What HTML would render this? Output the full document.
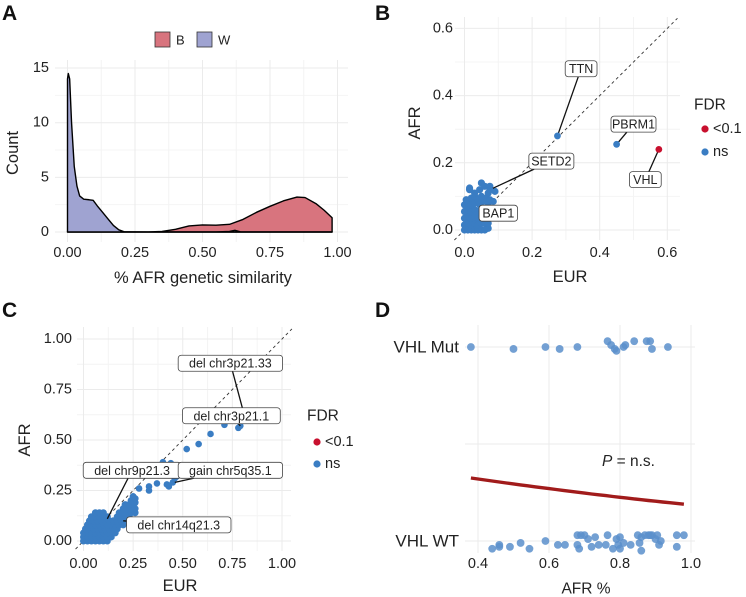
<!DOCTYPE html>
<html><head><meta charset="utf-8"><style>
html,body{margin:0;padding:0;background:#fff;}
svg{display:block;font-family:"Liberation Sans",Arial,sans-serif;}
</style></head><body>
<svg id="fig" width="746" height="597" viewBox="0 0 746 597" xmlns="http://www.w3.org/2000/svg">
<g id="pA"></g>
<g id="pB"></g>
<g id="pC"></g>
<g id="pD"></g>
</svg>
<script>
// ---------- Panel A data ----------
const aTicksX = [0, 0.25, 0.5, 0.75, 1.0];
const aTickLabelsX = ["0.00", "0.25", "0.50", "0.75", "1.00"];
const aTicksY = [0, 5, 10, 15];
const wDensX = [0, 0.003, 0.008, 0.015, 0.025, 0.035, 0.045, 0.06, 0.08, 0.095, 0.11, 0.13, 0.15, 0.17, 0.19, 0.21, 0.3, 0.4, 0.55, 0.6, 0.62, 0.64, 0.7, 0.98];
const wDensY = [14, 14.5, 14, 10, 6, 4.2, 3.3, 3.0, 2.95, 2.9, 2.4, 1.8, 1.2, 0.6, 0.2, 0.02, 0, 0, 0, 0.05, 0.15, 0.02, 0, 0];
const bDensX = [0, 0.3, 0.35, 0.4, 0.45, 0.5, 0.55, 0.6, 0.65, 0.7, 0.75, 0.8, 0.85, 0.88, 0.92, 0.95, 0.98];
const bDensY = [0, 0, 0.05, 0.25, 0.55, 0.65, 0.62, 0.7, 1.15, 1.8, 2.35, 2.85, 3.2, 3.15, 2.6, 2.0, 1.3];

// ---------- Panel B data ----------
const bTicks = [0, 0.2, 0.4, 0.6];
const bTickLabels = ["0.0", "0.2", "0.4", "0.6"];
const bCluster = [[0,0],[0.01,0],[0.02,0],[0.03,0],[0.04,0],[0.05,0],[0.06,0],[0.07,0.005],
[0,0.015],[0.01,0.02],[0.02,0.015],[0.03,0.02],[0.04,0.015],[0.05,0.02],[0.06,0.02],[0.07,0.02],
[0,0.035],[0.01,0.04],[0.02,0.035],[0.03,0.04],[0.04,0.035],[0.05,0.04],[0.065,0.035],
[0,0.055],[0.01,0.06],[0.02,0.055],[0.03,0.06],[0.04,0.055],[0.05,0.06],[0.06,0.055],
[0,0.075],[0.01,0.08],[0.02,0.075],[0.03,0.08],[0.045,0.075],[0.055,0.085],[0.07,0.08],[0.085,0.085],
[0.005,0.09],[0.02,0.095],[0.03,0.1],[0.04,0.09],[0.05,0.1],[0.065,0.095],[0.075,0.09],
[0.015,0.125],[0.015,0.12],[0.045,0.12],[0.05,0.14],[0.06,0.13],[0.075,0.13],[0.09,0.115],[0.07,0.11],[0.03,0.11]];
const bGenes = ["TTN", "SETD2", "BAP1", "PBRM1", "VHL"];
const bGeneEUR = [0.275, 0.075, 0.05, 0.45, 0.575];
const bGeneAFR = [0.28, 0.12, 0.06, 0.255, 0.24];
const bGeneSig = [false, false, false, false, true];
const bLabelX = [0.345, 0.257, 0.1, 0.5, 0.535];
const bLabelY = [0.48, 0.205, 0.05, 0.315, 0.15];

// ---------- Panel C data ----------
const cTicks = [0, 0.25, 0.5, 0.75, 1.0];
const cTickLabels = ["0.00", "0.25", "0.50", "0.75", "1.00"];
const cOutliers = [[0.78,0.56],[0.79,0.57],[0.71,0.575],[0.64,0.53],[0.58,0.48],[0.52,0.455],[0.47,0.32],[0.46,0.31],[0.45,0.29],[0.43,0.27],[0.42,0.28],[0.4,0.39],[0.44,0.385],[0.37,0.285],[0.33,0.27],[0.33,0.25],[0.28,0.26]];
const cCluster = [[0,0],[0.02,0],[0.04,0],[0.06,0],[0.08,0],[0.1,0],[0.12,0],
[0,0.02],[0.02,0.02],[0.04,0.02],[0.06,0.02],[0.08,0.02],[0.1,0.02],[0.12,0.02],[0.14,0.02],
[0,0.04],[0.02,0.04],[0.04,0.04],[0.06,0.04],[0.08,0.04],[0.1,0.04],[0.12,0.04],[0.14,0.04],[0.16,0.04],
[0.01,0.06],[0.03,0.06],[0.05,0.06],[0.07,0.06],[0.09,0.06],[0.11,0.06],[0.13,0.06],[0.15,0.06],[0.17,0.06],
[0.02,0.08],[0.04,0.08],[0.06,0.08],[0.08,0.08],[0.1,0.08],[0.12,0.08],[0.14,0.08],[0.16,0.08],[0.18,0.08],[0.2,0.08],
[0.03,0.1],[0.05,0.1],[0.07,0.1],[0.09,0.1],[0.11,0.1],[0.13,0.1],[0.15,0.1],[0.17,0.1],[0.19,0.1],[0.21,0.1],
[0.04,0.12],[0.06,0.12],[0.08,0.12],[0.1,0.12],[0.12,0.12],[0.17,0.12],[0.19,0.12],[0.21,0.12],[0.23,0.12],
[0.06,0.14],[0.08,0.14],[0.1,0.14],[0.18,0.14],[0.2,0.14],[0.22,0.14],[0.24,0.14],[0.26,0.14],
[0.2,0.16],[0.22,0.16],[0.24,0.16],[0.26,0.16],[0.21,0.18],[0.23,0.18],[0.25,0.18],[0.26,0.19],[0.24,0.2],[0.26,0.21],[0.25,0.22]];
const cRegions = ["del chr3p21.33", "del chr3p21.1", "del chr9p21.3", "gain chr5q35.1", "del chr14q21.3"];
const cRegEUR = [0.8, 0.79, 0.12, 0.46, 0.2];
const cRegAFR = [0.66, 0.57, 0.11, 0.29, 0.1];
const cLabelX = [0.74, 0.745, 0.245, 0.74, 0.48];
const cLabelY = [0.88, 0.62, 0.35, 0.35, 0.08];

// ---------- Panel D data ----------
const dTicks = [0.4, 0.6, 0.8, 1.0];
const dTickLabels = ["0.4", "0.6", "0.8", "1.0"];
const dGroups = ["VHL WT", "VHL Mut"];
const mutX = [0.38, 0.5, 0.59, 0.63, 0.68, 0.765, 0.775, 0.785, 0.79, 0.81, 0.815, 0.84, 0.875, 0.885, 0.89, 0.935];
const mutJ = [0, -0.01, 0, -0.01, 0, 0.03, 0.01, -0.01, -0.02, 0, 0.01, 0.03, 0.03, 0.03, -0.01, 0];
const wtX = [0.44,0.46,0.46,0.49,0.52,0.545,0.59,0.625,0.645,0.68,0.68,0.685,0.69,0.70,0.71,0.72,0.73,0.74,0.76,0.765,0.78,0.79,0.795,0.80,0.80,0.81,0.83,0.85,0.855,0.86,0.86,0.87,0.88,0.885,0.89,0.90,0.905,0.91,0.915,0.96,0.96,0.98];
const wtJ = [-0.04,-0.02,-0.03,-0.03,-0.01,-0.04,0,-0.02,-0.02,0.03,-0.02,-0.04,0.03,0.03,0.01,-0.03,0.02,-0.02,-0.02,0.03,-0.04,0.01,-0.02,0.02,-0.04,-0.01,-0.02,0.03,-0.01,0.02,-0.05,0.03,0.03,0.03,0.03,0.01,0.03,-0.02,0,0.03,-0.03,0.03];
const fitCoef = [-0.275, -1.2];
const fitRange = [0.38, 0.98];

// ---------- helpers ----------
const NS = "http://www.w3.org/2000/svg";
function mk(parent, tag, attrs, text) {
  const e = document.createElementNS(NS, tag);
  for (const k in attrs) e.setAttribute(k, attrs[k]);
  if (text !== undefined) e.textContent = text;
  parent.appendChild(e);
  return e;
}
const GRID = "#ebebeb", MINOR = "#f4f4f4", TXT = "#222", BLUE = "#3a7dc3", RED = "#c8102e";

function panelLetter(g, x, y, t) {
  const e = mk(g, "text", {x: x, y: y, "font-size": 21, "font-weight": "bold", fill: "#111"}, t);
  
  
}
function gridLines(g, xs, ys, x0, x1, y0, y1, color, nm) {
  xs.forEach(v => { const l = mk(g, "line", {x1: v, x2: v, y1: y0, y2: y1, stroke: color, "stroke-width": 1});
      });
  ys.forEach(v => { const l = mk(g, "line", {x1: x0, x2: x1, y1: v, y2: v, stroke: color, "stroke-width": 1});
      });
}
function label(g, t, cx, cy, fs, nm, anchor, extra) {
  const a = {x: cx, y: cy, "font-size": fs, fill: TXT, "text-anchor": anchor || "middle", "dominant-baseline": "central"};
  if (extra) Object.assign(a, extra);
  const e = mk(g, "text", a, t);
  
  
  return e;
}
function dot(g, x, y, r, fill, nm, op) {
  const c = mk(g, "circle", {cx: x, cy: y, r: r, fill: fill, "fill-opacity": op || 1});
  
  
  return c;
}
function boxW(t) { return t.length * 6.6 + 12; }
function boxLabel(g, t, cx, cy, nm) {
  const w = boxW(t), h = 16;
  const r = mk(g, "rect", {x: cx - w/2, y: cy - h/2, width: w, height: h, rx: 3, fill: "#fff", stroke: "#444", "stroke-width": 0.8});
  
  
  label(g, t, cx, cy + 0.5, 12.5, nm, "middle");
}
function connector(g, lx, ly, w, h, px, py, nm) {
  const dx = px - lx, dy = py - ly;
  const s = Math.min(Math.abs((w/2) / (dx || 1e-6)), Math.abs((h/2) / (dy || 1e-6)));
  const l = mk(g, "line", {x1: lx + dx*s, y1: ly + dy*s, x2: px, y2: py, stroke: "#111", "stroke-width": 1.3});
  
  
}

// ---------- Panel A ----------
(function(){
  const g = document.getElementById("pA");
  const X = v => 67.5 + v * 270, Y = v => 232 - v * 10.93;
  panelLetter(g, 2, 20, "A");
  const minorX = [0.125, 0.375, 0.625, 0.875].map(X), minorY = [2.5, 7.5, 12.5].map(Y);
  gridLines(g, minorX, minorY, 55, 348, 60, 242, MINOR, "panel-a-minor");
  gridLines(g, aTicksX.map(X), aTicksY.map(Y), 55, 348, 60, 242, GRID, "panel-a");
  function area(xs, ys, fill, nm) {
    let d = "M" + X(xs[0]) + "," + Y(0);
    xs.forEach((v, i) => d += "L" + X(v) + "," + Y(ys[i]));
    d += "L" + X(xs[xs.length-1]) + "," + Y(0) + "Z";
    const p = mk(g, "path", {d: d, fill: fill, stroke: "#000", "stroke-width": 1.4, "stroke-linejoin": "round"});
    
    
  }
  area(bDensX, bDensY, "#d8747e", "density-b");
  area(wDensX, wDensY, "#9fa3d1", "density-w");
  aTicksX.forEach((v, i) => label(g, aTickLabelsX[i], X(v), 253, 14.5, "x-tick-label"));
  aTicksY.forEach(v => label(g, String(v), 49, Y(v), 14.5, "y-tick-label", "end"));
  label(g, "% AFR genetic similarity", 203, 278, 16.5, "x-axis-title");
  label(g, "Count", 13, 153, 16.5, "y-axis-title", "middle", {transform: "rotate(-90 13 153)"});
  const s1 = mk(g, "rect", {x: 155, y: 32, width: 15, height: 15, fill: "#d8747e", stroke: "#333", "stroke-width": 0.8});
   
  label(g, "B", 176, 40, 13, "legend-label-b", "start");
  const s2 = mk(g, "rect", {x: 197, y: 32, width: 15, height: 15, fill: "#9fa3d1", stroke: "#333", "stroke-width": 0.8});
   
  label(g, "W", 218, 40, 13, "legend-label-w", "start");
})();

// ---------- Panel B ----------
(function(){
  const g = document.getElementById("pB");
  const X = v => 464.5 + v * 338, Y = v => 230 - v * 336;
  panelLetter(g, 375, 20, "B");
  gridLines(g, [0.1,0.3,0.5].map(X), [0.1,0.3,0.5].map(Y), 455, 680, 17, 240, MINOR, "panel-b-minor");
  gridLines(g, bTicks.map(X), bTicks.map(Y), 455, 680, 17, 240, GRID, "panel-b");
  const dl = mk(g, "line", {x1: X(-0.03), y1: Y(-0.03), x2: X(0.63), y2: Y(0.63), stroke: "#333", "stroke-width": 0.9, "stroke-dasharray": "3,3"});
   
  bCluster.forEach(p => dot(g, X(p[0]), Y(p[1]), 3.6, BLUE, "gene-point"));
  bGenes.forEach((n, i) => {
    const px = X(bGeneEUR[i]), py = Y(bGeneAFR[i]);
    const lx = X(bLabelX[i]), ly = Y(bLabelY[i]);
    connector(g, lx, ly, boxW(n), 16, px, py, "label-" + n.toLowerCase());
    dot(g, px, py, 3.4, bGeneSig[i] ? RED : BLUE, "gene-point-" + n.toLowerCase());
    boxLabel(g, n, lx, ly, "label-" + n.toLowerCase());
  });
  bTicks.forEach((v, i) => label(g, bTickLabels[i], X(v), 253, 14.5, "x-tick-label"));
  bTicks.forEach((v, i) => label(g, bTickLabels[i], 453, Y(v), 14.5, "y-tick-label", "end"));
  label(g, "EUR", 570, 277, 16.5, "x-axis-title");
  label(g, "AFR", 415, 123, 16.5, "y-axis-title", "middle", {transform: "rotate(-90 415 123)"});
  label(g, "FDR", 694, 105, 15.5, "legend-title", "start");
  dot(g, 705, 129, 3.6, RED, "legend-dot-sig");
  label(g, "<0.1", 713, 129, 14.5, "legend-label-sig", "start");
  dot(g, 705, 152, 3.6, BLUE, "legend-dot-ns");
  label(g, "ns", 713, 152, 14.5, "legend-label-ns", "start");
})();

// ---------- Panel C ----------
(function(){
  const g = document.getElementById("pC");
  const X = v => 83.5 + v * 198.5, Y = v => 541 - v * 202;
  panelLetter(g, 2, 317, "C");
  gridLines(g, [0.125,0.375,0.625,0.875].map(X), [0.125,0.375,0.625,0.875].map(Y), 77, 291, 327, 551, MINOR, "panel-c-minor");
  gridLines(g, cTicks.map(X), cTicks.map(Y), 77, 291, 327, 551, GRID, "panel-c");
  const dl = mk(g, "line", {x1: X(-0.04), y1: Y(-0.04), x2: X(1.05), y2: Y(1.05), stroke: "#333", "stroke-width": 0.9, "stroke-dasharray": "3,3"});
   
  cCluster.forEach(p => dot(g, X(p[0]), Y(p[1]), 3.5, BLUE, "region-point"));
  cOutliers.forEach(p => dot(g, X(p[0]), Y(p[1]), 3.3, BLUE, "region-point"));
  cRegions.forEach((n, i) => {
    const px = X(cRegEUR[i]), py = Y(cRegAFR[i]);
    const lx = X(cLabelX[i]), ly = Y(cLabelY[i]);
    const nm = "label-" + n.replace(/[ .]/g, "-");
    connector(g, lx, ly, boxW(n), 16, px, py, nm);
    boxLabel(g, n, lx, ly, nm);
  });
  cTicks.forEach((v, i) => label(g, cTickLabels[i], X(v), 564, 14.5, "x-tick-label"));
  cTicks.forEach((v, i) => label(g, cTickLabels[i], 72, Y(v), 14.5, "y-tick-label", "end"));
  label(g, "EUR", 180, 586, 16.5, "x-axis-title");
  label(g, "AFR", 25, 440, 16.5, "y-axis-title", "middle", {transform: "rotate(-90 25 440)"});
  label(g, "FDR", 307, 416, 15.5, "legend-title", "start");
  dot(g, 317, 442, 3.6, RED, "legend-dot-sig");
  label(g, "<0.1", 325, 442, 14.5, "legend-label-sig", "start");
  dot(g, 317, 464, 3.6, BLUE, "legend-dot-ns");
  label(g, "ns", 325, 464, 14.5, "legend-label-ns", "start");
})();

// ---------- Panel D ----------
(function(){
  const g = document.getElementById("pD");
  const X = v => 478 + (v - 0.4) * 355, Y = v => 541 - v * 194;
  panelLetter(g, 375, 317, "D");
  gridLines(g, dTicks.map(X), [0, 0.5, 1].map(Y), 465, 695, 325, 553, GRID, "panel-d");
  mutX.forEach((v, i) => dot(g, X(v), Y(1 + mutJ[i]), 3.9, "#5a8fcb", "mut-point", 0.85));
  wtX.forEach((v, i) => dot(g, X(v), Y(wtJ[i]), 3.9, "#5a8fcb", "wt-point", 0.85));
  let d = "";
  for (let k = 0; k <= 30; k++) {
    const v = fitRange[0] + (fitRange[1] - fitRange[0]) * k / 30;
    const p = 1 / (1 + Math.exp(-(fitCoef[0] + fitCoef[1] * v)));
    d += (k ? "L" : "M") + X(v).toFixed(1) + "," + Y(p).toFixed(1);
  }
  const fl = mk(g, "path", {d: d, fill: "none", stroke: "#a11b1b", "stroke-width": 3.4});
   
  const pt = mk(g, "text", {x: 602, y: 461, "font-size": 15.5, fill: TXT, "dominant-baseline": "central"});
   
  const ti = mk(pt, "tspan", {"font-style": "italic"}, "P");
   
  const t2 = mk(pt, "tspan", {}, " = n.s.");
   
  dTicks.forEach((v, i) => label(g, dTickLabels[i], X(v), 564, 14.5, "x-tick-label"));
  label(g, dGroups[1], 459, Y(1), 17, "y-category-label-mut", "end");
  label(g, dGroups[0], 459, Y(0), 17, "y-category-label-wt", "end");
  label(g, "AFR %", 586, 589, 15.5, "x-axis-title");
})();
</script>
</body></html>
